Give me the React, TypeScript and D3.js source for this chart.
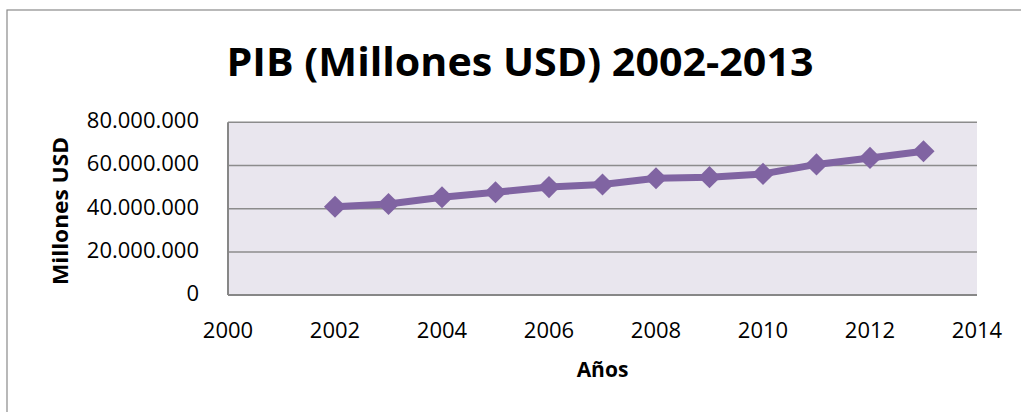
import React from "react";
import * as d3 from "d3";

const years = [2002, 2003, 2004, 2005, 2006, 2007, 2008, 2009, 2010, 2011, 2012, 2013];
const pib = [
  40900000, 42200000, 45300000, 47600000, 50000000, 51200000,
  54100000, 54600000, 56100000, 60500000, 63500000, 66600000,
];
const xTicks = [2000, 2002, 2004, 2006, 2008, 2010, 2012, 2014];
const yTicks = [0, 20000000, 40000000, 60000000, 80000000];
const title = "PIB (Millones USD) 2002-2013";
const xTitle = "Años";
const yTitle = "Millones USD";

const W = 1021;
const H = 412;
const plot = { left: 228, right: 977, top: 122.3, bottom: 295.1 };
const FONT = "'Open Sans', 'DejaVu Sans', sans-serif";
const PURPLE = "#8064A2";

const fmt = (v: number) =>
  v === 0 ? "0" : d3.format(",")(v).replace(/,/g, ".");

export default function App() {
  const x = d3.scaleLinear().domain([2000, 2014]).range([plot.left, plot.right]);
  const y = d3.scaleLinear().domain([0, 80000000]).range([plot.bottom, plot.top]);
  const line = d3
    .line<number>()
    .x((_, i) => x(years[i]))
    .y((d) => y(d));
  const diamond = d3.symbol().type(d3.symbolDiamond2).size(2 * 12.5 * 12.5)();

  return (
    <svg
      width={W}
      height={H}
      style={{ position: "absolute", left: 0, top: 0, background: "#fff" }}
      fontFamily={FONT}
    >
      <rect x={7} y={10} width={W + 20} height={H + 20} fill="#fff" stroke="#8a8a8a" strokeWidth={1.2} />
      <text
        x={(226.7 + 813.3) / 2}
        y={76}
        textAnchor="middle"
        fontSize={39}
        fontWeight="bold"
        textLength={587}
        lengthAdjust="spacingAndGlyphs"
        fill="#000"
      >
        {title}
      </text>
      <rect
        x={plot.left}
        y={plot.top}
        width={plot.right - plot.left}
        height={plot.bottom - plot.top}
        fill="#E9E6EE"
      />
      {yTicks.slice(1).map((t) => (
        <line key={t} x1={plot.left} x2={plot.right} y1={y(t)} y2={y(t)} stroke="#8c8c8c" strokeWidth={1.5} />
      ))}
      <line x1={plot.left} x2={plot.left} y1={plot.top} y2={plot.bottom} stroke="#878787" strokeWidth={2} />
      <line x1={plot.left} x2={plot.right} y1={plot.bottom} y2={plot.bottom} stroke="#878787" strokeWidth={2} />
      {yTicks.map((t) => (
        <text key={t} x={199} y={y(t) + 5.8} textAnchor="end" fontSize={22} fill="#000">
          {fmt(t)}
        </text>
      ))}
      {xTicks.map((t) => (
        <text key={t} x={x(t)} y={337.5} textAnchor="middle" fontSize={22} fill="#000">
          {t}
        </text>
      ))}
      <text x={(plot.left + plot.right) / 2} y={376.7} textAnchor="middle" fontSize={21} fontWeight="bold" fill="#000">
        {xTitle}
      </text>
      <text
        transform={`translate(68, 211) rotate(-90)`}
        textAnchor="middle"
        fontSize={21}
        fontWeight="bold"
        textLength={148}
        lengthAdjust="spacingAndGlyphs"
        fill="#000"
      >
        {yTitle}
      </text>
      <path d={line(pib) || ""} fill="none" stroke={PURPLE} strokeWidth={7} strokeLinejoin="round" />
      {pib.map((v, i) => (
        <path key={years[i]} d={diamond || ""} transform={`translate(${x(years[i])},${y(v)})`} fill={PURPLE} />
      ))}
    </svg>
  );
}
